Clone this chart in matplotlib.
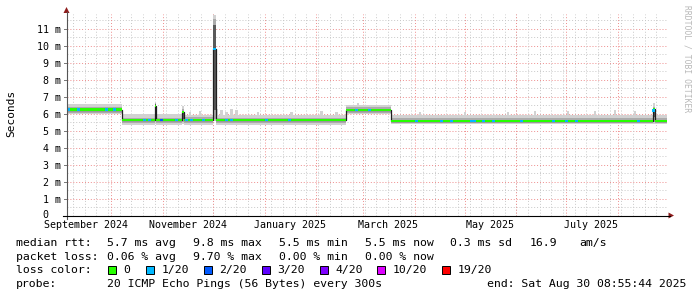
import matplotlib
matplotlib.use("Agg")
import matplotlib.pyplot as plt
import matplotlib.dates as mdates
import matplotlib.transforms as mtrans
from matplotlib.patches import Rectangle, Polygon
from matplotlib.lines import Line2D
import numpy as np
import pandas as pd

# ---------------- data ----------------
t_start = pd.Timestamp("2024-09-04 08:55:44")
t_end = pd.Timestamp("2025-08-30 08:55:44")

seg_start = ["2024-09-04 08:55", "2024-10-07 12:00", "2024-10-27 00:00", "2024-10-28 00:00",
             "2024-11-12 12:00", "2024-11-13 12:00", "2024-12-01 00:00", "2024-12-02 18:00",
             "2025-02-19 00:00", "2025-03-18 00:00", "2025-08-22 00:00", "2025-08-23 00:00"]
seg_median = [6.23, 5.62, 6.45, 5.62, 6.10, 5.64, 9.80, 5.62, 6.22, 5.58, 6.25, 5.58]
seg_p0 =     [5.98, 5.34, 5.40, 5.34, 5.40, 5.33, 5.60, 5.35, 5.98, 5.38, 5.40, 5.38]
seg_p10 =    [6.04, 5.45, 5.55, 5.45, 5.50, 5.45, 5.70, 5.45, 6.05, 5.45, 5.50, 5.45]
seg_p25 =    [6.18, 5.57, 6.00, 5.57, 5.70, 5.59, 6.20, 5.57, 6.17, 5.53, 5.80, 5.53]
seg_p75 =    [6.28, 5.67, 6.55, 5.67, 6.15, 5.69, 11.20, 5.67, 6.27, 5.63, 6.30, 5.63]
seg_p90 =    [6.41, 5.76, 6.62, 5.76, 6.30, 5.78, 11.60, 5.77, 6.38, 5.74, 6.42, 5.74]
seg_p100 =   [6.57, 5.96, 6.70, 5.96, 6.45, 5.92, 11.80, 5.95, 6.52, 5.90, 6.62, 5.90]

bump_dates = ["2024-11-17", "2024-11-23", "2024-12-03", "2024-12-06", "2024-12-09", "2024-12-12",
              "2024-12-15", "2024-12-28", "2025-01-17", "2025-02-04", "2025-02-13", "2025-02-26",
              "2025-04-04", "2025-05-01", "2025-05-27", "2025-06-12", "2025-07-02", "2025-07-18",
              "2025-07-30", "2025-08-11"]
bump_base = [5.8, 5.8, 5.8, 5.8, 5.8, 5.8, 5.8, 5.8, 5.8, 5.8, 5.8, 6.4,
             5.8, 5.8, 5.8, 5.8, 5.8, 5.8, 5.8, 5.8]
bump_top = [6.10, 6.15, 6.30, 6.20, 6.10, 6.25, 6.20, 6.10, 6.10, 6.15, 6.10, 6.62,
            6.10, 6.10, 6.10, 6.15, 6.15, 6.15, 6.20, 6.15]

loss_dates = ["2024-09-05", "2024-09-11", "2024-09-28", "2024-10-03", "2024-10-21", "2024-10-24",
              "2024-10-31", "2024-11-09", "2024-11-15", "2024-11-18", "2024-11-25", "2024-12-01 18:00",
              "2024-12-09", "2024-12-12", "2025-01-02", "2025-01-16", "2025-02-25", "2025-03-05",
              "2025-04-02", "2025-04-17", "2025-04-23", "2025-05-05", "2025-05-07", "2025-05-12",
              "2025-05-18", "2025-06-04", "2025-06-23", "2025-07-01", "2025-07-07", "2025-08-13",
              "2025-08-22 12:00"]
loss_level = [1, 1, 1, 1, 1, 1, 2, 1, 1, 1, 1, 1, 1, 1, 1, 1, 1, 1,
              1, 1, 1, 1, 1, 1, 1, 1, 1, 1, 1, 1, 1]
loss_value = [6.23, 6.23, 6.23, 6.23, 5.62, 5.62, 5.62, 5.62, 5.64, 5.64, 5.64, 9.80,
              5.62, 5.62, 5.62, 5.62, 6.22, 6.22, 5.58, 5.58, 5.58, 5.58, 5.58, 5.58,
              5.58, 5.58, 5.58, 5.58, 5.58, 5.58, 6.20]

y_ticks = [0, 1, 2, 3, 4, 5, 6, 7, 8, 9, 10, 11]
y_labels = ["0", "1 m", "2 m", "3 m", "4 m", "5 m", "6 m", "7 m", "8 m", "9 m", "10 m", "11 m"]
x_label_dates = ["2024-09-16", "2024-11-16", "2025-01-16", "2025-03-16", "2025-05-16", "2025-07-16"]
x_labels = ["September 2024", "November 2024", "January 2025", "March 2025", "May 2025", "July 2025"]

loss_names = ["0", "1/20", "2/20", "3/20", "4/20", "10/20", "19/20"]
loss_colors = ["#26ff00", "#00b8ff", "#0059ff", "#5e00ff", "#7e00ff", "#dd00ff", "#ff0000"]

rtt_row = ["median rtt:", "5.7 ms avg", "9.8 ms max", "5.5 ms min", "5.5 ms now", "0.3 ms sd", "16.9", "am/s"]
loss_row = ["packet loss:", "0.06 % avg", "9.70 % max", "0.00 % min", "0.00 % now"]
probe_row = ["probe:", "20 ICMP Echo Pings (56 Bytes) every 300s", "end: Sat Aug 30 08:55:44 2025"]


def to_num(strings):
    return mdates.date2num(pd.to_datetime(strings, format="mixed"))


# ---------------- layout ----------------
W, H, DPI = 697, 297, 100
MONO = "DejaVu Sans Mono"
fig = plt.figure(figsize=(W / DPI, H / DPI), dpi=DPI)
fig.patch.set_facecolor("white")


def fx(px):
    return px / W


def fy(py):
    return 1 - py / H


X0, X1 = 67, 667
YB, YT = 215.7, 14.0
PX_PER_MS = 17.0
ax = fig.add_axes([fx(X0), fy(YB), (X1 - X0) / W, (YB - YT) / H])
ax.set_facecolor("white")
ax.set_xlim(mdates.date2num(t_start), mdates.date2num(t_end))
ax.set_ylim(0, (YB - YT) / PX_PER_MS)
for s in ax.spines.values():
    s.set_visible(False)
ax.set_xticks([])
ax.set_yticks([])

# grid
dot = (0, (1, 2))
MINOR_C, MAJOR_C = "#c8c8c8", "#ee8c8c"
for v in np.arange(0.5, 11.9, 0.5):
    major = abs(v - round(v)) < 1e-6
    ax.axhline(v, color=MAJOR_C if major else MINOR_C, lw=0.7, ls=dot, zorder=0.5)
for d in pd.date_range("2024-09-08", t_end, freq="7D"):
    ax.axvline(mdates.date2num(d), color=MINOR_C, lw=0.7, ls=dot, zorder=0.5)
for d in pd.date_range("2024-10-01", t_end, freq="MS"):
    ax.axvline(mdates.date2num(d), color=MAJOR_C, lw=0.7, ls=dot, zorder=0.6)

# smoke
edges = to_num(seg_start + [str(t_end)])


def ext(a):
    return np.array(list(a) + [a[-1]], dtype=float)


bd = to_num(bump_dates)
ax.bar(bd, np.array(bump_top) - np.array(bump_base), bottom=bump_base, width=1.4,
       color="#d2d2d2", lw=0, zorder=1)
ax.fill_between(edges, ext(seg_p0), ext(seg_p100), step="post", color="#d2d2d2", lw=0, zorder=1.1)
ax.fill_between(edges, ext(seg_p10), ext(seg_p90), step="post", color="#ababab", lw=0, zorder=1.2)
ax.fill_between(edges, ext(seg_p25), ext(seg_p75), step="post", color="#5a5a5a", lw=0, zorder=1.3)

# median: black line + loss-coloured band
med = ext(seg_median)
ax.step(edges, med, where="post", color="#202020", lw=0.9, zorder=2)
half = 1.3 / PX_PER_MS
ax.fill_between(edges, med - half, med + half, step="post", color=loss_colors[0], lw=0, zorder=3)
ld = to_num(loss_dates)
ax.bar(ld, 2 * half, bottom=np.array(loss_value) - half, width=1.8,
       color=[loss_colors[l] for l in loss_level], lw=0, zorder=4)

# y tick labels
blend = mtrans.blended_transform_factory(ax.transAxes, ax.transData)
for v, lab in zip(y_ticks, y_labels):
    is_zero = not lab.endswith("m")
    xpx = 48.8 if is_zero else 60.8
    tr = mtrans.offset_copy(blend, fig=fig, y=1.6, units="dots") if is_zero else blend
    ax.text((xpx - X0) / (X1 - X0), v, lab, transform=tr, ha="right", va="center_baseline",
            family=MONO, fontsize=7.2, color="#000000", clip_on=False)
    ax.add_line(Line2D([-3.0 / (X1 - X0), 0], [v, v], transform=blend, color="#777777",
                       lw=0.7, clip_on=False))

# x labels
blend_x = mtrans.blended_transform_factory(ax.transData, ax.transAxes)
for d, lab in zip(x_label_dates, x_labels):
    ax.text(mdates.date2num(pd.Timestamp(d)), -(228.4 - YB) / (YB - YT), lab, transform=blend_x,
            ha="center", va="baseline", family=MONO, fontsize=7.2, color="#000000", clip_on=False)

# axes lines and arrows
fig.add_artist(Line2D([fx(66.5), fx(66.5)], [fy(219), fy(12)], color="#555555", lw=0.8))
fig.add_artist(Line2D([fx(63), fx(670)], [fy(215.5), fy(215.5)], color="#000000", lw=0.8))
fig.add_artist(Polygon([[fx(66.5), fy(7)], [fx(63.5), fy(13)], [fx(69.5), fy(13)]],
                       closed=True, color="#8e1c1c", lw=0))
fig.add_artist(Polygon([[fx(674), fy(215.5)], [fx(668.5), fy(212.5)], [fx(668.5), fy(218.5)]],
                       closed=True, color="#8e1c1c", lw=0))

# titles
fig.text(fx(11), fy(113.5), "Seconds", rotation=90, ha="center", va="center",
         family=MONO, fontsize=8.0, color="#000000")
fig.text(fx(686.5), fy(59), "RRDTOOL / TOBI OETIKER", rotation=270, ha="center", va="center",
         family=MONO, fontsize=5.8, color="#b8b8b8")

# legend rows
LF = 8.25
rtt_x = [16, 107, 193, 279, 365, 450, 530, 579]
for x, s in zip(rtt_x, rtt_row):
    fig.text(fx(x), fy(245.8), s, ha="left", va="baseline", family=MONO, fontsize=LF)
loss_x = [16, 107, 193, 279, 365]
for x, s in zip(loss_x, loss_row):
    fig.text(fx(x), fy(259.6), s, ha="left", va="baseline", family=MONO, fontsize=LF)
fig.text(fx(16), fy(273.4), "loss color:", ha="left", va="baseline", family=MONO, fontsize=LF)
box_x = [108, 146, 204, 262, 320, 377, 442]
for x, name, c in zip(box_x, loss_names, loss_colors):
    fig.add_artist(Rectangle((fx(x), fy(273.8)), 8 / W, 7.6 / H, facecolor=c,
                             edgecolor="#000000", lw=0.7))
    fig.text(fx(x + 15.5), fy(273.4), name, ha="left", va="baseline", family=MONO, fontsize=LF)
probe_x = [16, 107, 487]
for x, s in zip(probe_x, probe_row):
    fig.text(fx(x), fy(287.2), s, ha="left", va="baseline", family=MONO, fontsize=LF)

fig.savefig("out.png", dpi=DPI, facecolor="white")
